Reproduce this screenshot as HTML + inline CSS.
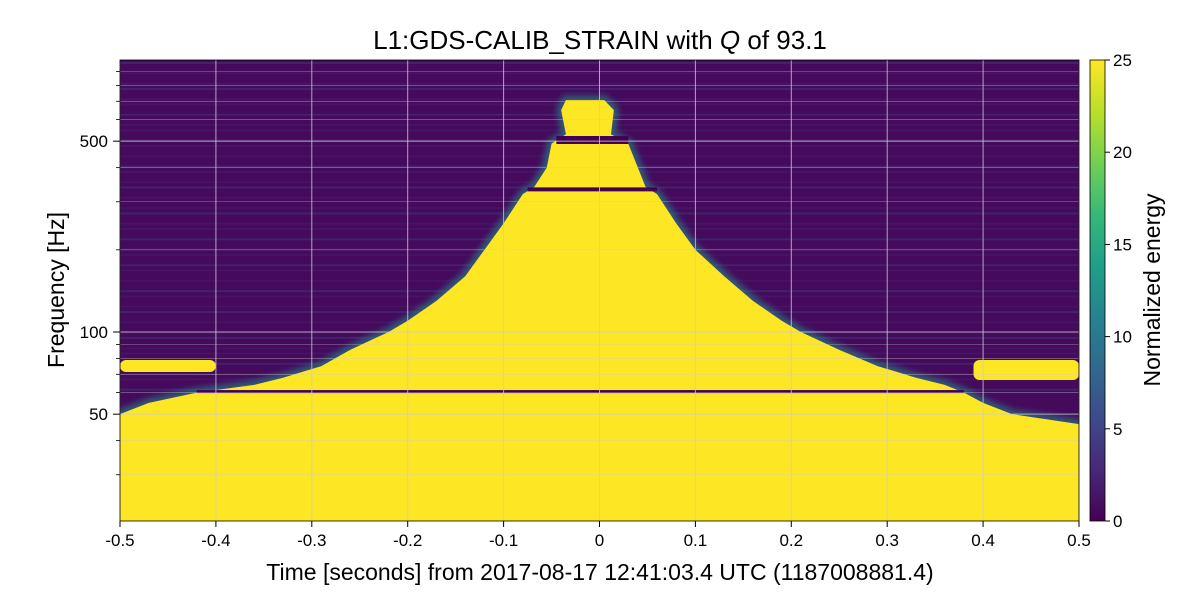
<!DOCTYPE html>
<html><head><meta charset="utf-8">
<style>
html,body{margin:0;padding:0;background:#fff;}
svg text{font-family:"Liberation Sans",sans-serif;fill:#000;}
</style></head>
<body>
<svg id="chart" width="1200" height="600" xmlns="http://www.w3.org/2000/svg">
<defs>
<linearGradient id="viridis" x1="0" y1="1" x2="0" y2="0">
<stop offset="0" stop-color="#440154"/><stop offset="0.11" stop-color="#482878"/>
<stop offset="0.22" stop-color="#3e4a89"/><stop offset="0.33" stop-color="#31688e"/>
<stop offset="0.44" stop-color="#26828e"/><stop offset="0.55" stop-color="#1f9e89"/>
<stop offset="0.66" stop-color="#35b779"/><stop offset="0.77" stop-color="#6ece58"/>
<stop offset="0.88" stop-color="#b5de2b"/><stop offset="1" stop-color="#fde725"/>
</linearGradient>
<clipPath id="plotclip"><rect x="120" y="60" width="959" height="461"/></clipPath>
<filter id="blur"><feGaussianBlur stdDeviation="3"/></filter>
</defs>
<text x="600" y="49" font-size="26" text-anchor="middle">L1:GDS-CALIB_STRAIN with <tspan font-style="italic">Q</tspan> of 93.1</text>
<g id="plot" clip-path="url(#plotclip)"></g>
<g id="axes"></g>
<rect x="120" y="60" width="959" height="461" fill="none" stroke="#000" stroke-width="0.8"/>
<text transform="translate(64,290) rotate(-90)" font-size="23" text-anchor="middle">Frequency [Hz]</text>
<text x="600" y="580" font-size="23" text-anchor="middle">Time [seconds] from 2017-08-17 12:41:03.4 UTC (1187008881.4)</text>
<rect x="1090" y="60" width="15" height="461" fill="url(#viridis)" stroke="#000" stroke-width="0.8"/>
<g id="cbticks"></g>
<text transform="translate(1160,290) rotate(-90)" font-size="23" text-anchor="middle">Normalized energy</text>
</svg>
<script>
const freqs=[707,650,530,490,400,340,320,250,200,160,130,110,100,86,75,68,64,60,55,50,46,20];
const leftT=[-0.035,-0.04,-0.035,-0.05,-0.055,-0.068,-0.08,-0.1,-0.12,-0.14,-0.17,-0.2,-0.22,-0.26,-0.29,-0.33,-0.36,-0.42,-0.47,-0.5,-0.5,-0.5];
const rightT=[0.005,0.015,0.012,0.03,0.04,0.048,0.06,0.08,0.1,0.13,0.16,0.19,0.21,0.25,0.29,0.33,0.36,0.38,0.4,0.43,0.5,0.5];
const gapFreqs=[505,333,60.5];
const xTicks=[-0.5,-0.4,-0.3,-0.2,-0.1,0,0.1,0.2,0.3,0.4,0.5];
const yMajor=[50,100,500];
const yMinor=[30,40,60,70,80,90,200,300,400,600,700,800,900];
const cbTicks=[0,5,10,15,20,25];
const NS='http://www.w3.org/2000/svg';
function X(t){return 120+(t+0.5)*959;}
function Y(f){return 332-(Math.log10(f)-2)*273;}
function el(tag,attrs,parent){const e=document.createElementNS(NS,tag);for(const k in attrs)e.setAttribute(k,attrs[k]);parent.appendChild(e);return e;}
const plot=document.getElementById('plot');
const axes=document.getElementById('axes');
const bg=el('rect',{x:120,y:60,width:959,height:461,fill:'#450a5c'},plot);


for(let i=0;i<40;i++){
  const yy=62+i*8.3+((i*37)%5);
  const s=el('rect',{x:120,y:yy,width:959,height:2,fill:(i%3==0)?'#3b4f8a':'#482475',opacity:0.35},plot);
  
  
}
const b1=el('rect',{x:X(-0.5),y:360,width:X(-0.4)-X(-0.5),height:12,fill:'#fde725',rx:6},plot);


const b2=el('rect',{x:X(0.39),y:360,width:X(0.5)-X(0.39),height:20,fill:'#fde725',rx:6},plot);


let pts=[];
for(let i=0;i<freqs.length;i++)pts.push(X(leftT[i])+','+Y(freqs[i]));
for(let i=freqs.length-1;i>=0;i--)pts.push(X(rightT[i])+','+Y(freqs[i]));
const halo=el('polygon',{points:pts.join(' '),fill:'#21918c',stroke:'#21918c',"stroke-width":10,"stroke-linejoin":'round',opacity:0.55,filter:'url(#blur)'},plot);


const poly=el('polygon',{points:pts.join(' '),fill:'#fde725'},plot);


gapFreqs.forEach((f,i)=>{
  const h=i==0?8:(i==1?4:3);
  const x0=i==0?X(-0.045):(i==1?X(-0.075):X(-0.42));
  const x1=i==0?X(0.03):(i==1?X(0.06):X(0.38));
  const g=el('rect',{x:x0,y:Y(f)-h/2,width:x1-x0,height:h,fill:'#440154'},plot);
  
  
});
yMinor.forEach(f=>{const l=el('line',{x1:120,x2:1079,y1:Y(f),y2:Y(f),stroke:'#ccc','stroke-width':0.6,opacity:0.6},plot);


const t=el('line',{x1:116,x2:120,y1:Y(f),y2:Y(f),stroke:'#000','stroke-width':0.8},axes);

});
yMajor.forEach(f=>{const l=el('line',{x1:120,x2:1079,y1:Y(f),y2:Y(f),stroke:'#ccc','stroke-width':1,opacity:0.8},plot);


const t=el('line',{x1:113,x2:120,y1:Y(f),y2:Y(f),stroke:'#000','stroke-width':1},axes);


const tx=el('text',{x:108,y:Y(f)+6,'font-size':17,'text-anchor':'end'},axes);tx.textContent=f;

});
xTicks.forEach(v=>{const l=el('line',{x1:X(v),x2:X(v),y1:60,y2:521,stroke:'#ccc','stroke-width':1,opacity:0.8},plot);


const t=el('line',{x1:X(v),x2:X(v),y1:521,y2:527,stroke:'#000','stroke-width':1},axes);


const tx=el('text',{x:X(v),y:546,'font-size':17,'text-anchor':'middle'},axes);tx.textContent=(v===0?'0':String(v));

});
const cb=document.getElementById('cbticks');
cbTicks.forEach(v=>{const y=521-v/25*461;
const t=el('line',{x1:1105,x2:1110,y1:y,y2:y,stroke:'#000','stroke-width':1},cb);


const tx=el('text',{x:1113,y:y+6,'font-size':17},cb);tx.textContent=v;

});
</script>
</body></html>
